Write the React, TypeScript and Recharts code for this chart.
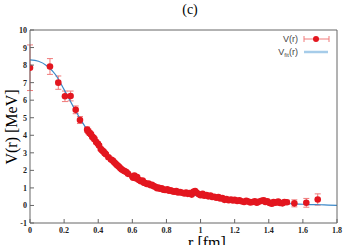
import {
  ComposedChart,
  Scatter,
  Line,
  XAxis,
  YAxis,
  ErrorBar,
} from "recharts";

// lattice points: r [fm], V [MeV], error
const rVals = [
  0.0, 0.117, 0.166, 0.205, 0.238, 0.268, 0.293, 0.335, 0.342, 0.35, 0.358, 0.365,
  0.372, 0.378, 0.388, 0.398, 0.405, 0.415, 0.422, 0.43, 0.438, 0.445, 0.46, 0.475,
  0.485, 0.492, 0.5, 0.508, 0.515, 0.522, 0.53, 0.538, 0.548, 0.556, 0.565, 0.575,
  0.6, 0.605, 0.612, 0.62, 0.628, 0.635, 0.642, 0.65, 0.66, 0.668, 0.675, 0.685,
  0.695, 0.705, 0.715, 0.725, 0.735, 0.745, 0.752, 0.762, 0.772, 0.782, 0.792,
  0.805, 0.815, 0.825, 0.838, 0.848, 0.858, 0.868, 0.88, 0.892, 0.905, 0.915,
  0.925, 0.935, 0.948, 0.958, 0.968, 0.978, 0.99, 1.0, 1.012, 1.022, 1.035, 1.045,
  1.058, 1.068, 1.08, 1.092, 1.105, 1.115, 1.128, 1.14, 1.152, 1.165, 1.178, 1.19,
  1.2, 1.215, 1.228, 1.24, 1.255, 1.268, 1.28, 1.292, 1.305, 1.318, 1.33, 1.345,
  1.358, 1.37, 1.38, 1.392, 1.405, 1.418, 1.428, 1.44, 1.455, 1.466, 1.48, 1.492,
  1.506, 1.55, 1.62, 1.687,
];
const vVals = [
  7.85, 7.92, 7.0, 6.22, 6.24, 5.45, 4.87, 4.32, 4.22, 4.12, 4.05, 3.92,
  3.86, 3.78, 3.62, 3.52, 3.42, 3.22, 3.15, 3.08, 2.98, 2.92, 2.75, 2.62,
  2.56, 2.48, 2.4, 2.32, 2.26, 2.2, 2.12, 2.05, 1.99, 1.95, 1.9, 1.8,
  1.65, 1.58, 1.7, 1.55, 1.62, 1.48, 1.44, 1.38, 1.42, 1.3, 1.28, 1.22,
  1.25, 1.16, 1.18, 1.1, 1.06, 0.98, 1.02, 0.95, 0.98, 0.9, 0.88,
  0.92, 0.84, 0.86, 0.8, 0.78, 0.82, 0.74, 0.76, 0.72, 0.68, 0.74,
  0.66, 0.7, 0.62, 0.78, 0.82, 0.72, 0.64, 0.58, 0.66, 0.55, 0.6, 0.52,
  0.56, 0.48, 0.5, 0.44, 0.48, 0.4, 0.42, 0.32, 0.36, 0.3, 0.34, 0.28,
  0.32, 0.26, 0.3, 0.24, 0.2, 0.26, 0.22, 0.17, 0.2, 0.24, 0.16, 0.22,
  0.27, 0.3, 0.2, 0.24, 0.14, 0.1, 0.2, 0.16, 0.22, 0.14, 0.12, 0.2,
  0.18, 0.12, 0.15, 0.34,
];
const errVals = [
  1.3, 0.45, 0.38, 0.3, 0.28, 0.22, 0.2, 0.15, 0.14, 0.13, 0.12, 0.12,
  0.12, 0.11, 0.11, 0.1, 0.1, 0.1, 0.1, 0.1, 0.09, 0.09, 0.09, 0.09,
  0.09, 0.08, 0.08, 0.08, 0.08, 0.08, 0.08, 0.08, 0.07, 0.07, 0.07, 0.07,
  0.07, 0.07, 0.08, 0.07, 0.07, 0.07, 0.07, 0.07, 0.08, 0.07, 0.07, 0.07,
  0.08, 0.07, 0.07, 0.07, 0.07, 0.07, 0.07, 0.07, 0.07, 0.07, 0.07,
  0.07, 0.07, 0.07, 0.07, 0.07, 0.07, 0.07, 0.07, 0.07, 0.07, 0.07,
  0.07, 0.07, 0.07, 0.08, 0.08, 0.08, 0.07, 0.07, 0.07, 0.07, 0.07, 0.07,
  0.07, 0.07, 0.07, 0.07, 0.07, 0.07, 0.07, 0.07, 0.07, 0.07, 0.07, 0.07,
  0.07, 0.07, 0.07, 0.07, 0.07, 0.07, 0.07, 0.08, 0.08, 0.08, 0.08, 0.08,
  0.08, 0.09, 0.09, 0.09, 0.09, 0.1, 0.1, 0.1, 0.1, 0.11, 0.11, 0.11,
  0.12, 0.2, 0.25, 0.32,
];

// fitted curve
const fitR = [
  0, 0.05, 0.1, 0.15, 0.2, 0.25, 0.3, 0.35, 0.4, 0.45, 0.5, 0.55, 0.6, 0.65, 0.7,
  0.75, 0.8, 0.85, 0.9, 0.95, 1.0, 1.05, 1.1, 1.15, 1.2, 1.25, 1.3, 1.35, 1.4,
  1.45, 1.5, 1.55, 1.6, 1.65, 1.7, 1.75, 1.8,
];
const fitV = [
  8.3, 8.22, 7.95, 7.45, 6.6, 5.7, 4.85, 4.1, 3.45, 2.9, 2.45, 2.05, 1.72, 1.45,
  1.22, 1.05, 0.9, 0.78, 0.68, 0.6, 0.52, 0.45, 0.39, 0.34, 0.3, 0.26, 0.22, 0.19,
  0.16, 0.13, 0.11, 0.09, 0.07, 0.05, 0.04, 0.02, 0.01,
];

const xTicks = [0, 0.2, 0.4, 0.6, 0.8, 1, 1.2, 1.4, 1.6, 1.8];
const yTicks = [-1, 0, 1, 2, 3, 4, 5, 6, 7, 8, 9, 10];

const points = rVals.map((r, i) => ({ r, v: vVals[i], err: errVals[i] }));
const fit = fitR.map((r, i) => ({ r, v: fitV[i] }));

const RED = "#e3161f";
const ERR = "#f07a7a";
const BLUE = "#3b88c8";
const AXIS = "#666";
const SERIF = "'Liberation Serif', 'Times New Roman', serif";
const SANS = "'Liberation Sans', Arial, sans-serif";

const BottomTick = ({ x, y, payload }: any) => (
  <g>
    <line x1={x} y1={y} x2={x} y2={y - 4} stroke={AXIS} />
    <text x={x} y={y + 10} textAnchor="middle" fontSize={8} fontWeight="bold" fontFamily={SERIF} fill="#222">
      {payload.value}
    </text>
  </g>
);
const TopTick = ({ x, y }: any) => <line x1={x} y1={y} x2={x} y2={y + 4} stroke={AXIS} />;
const LeftTick = ({ x, y, payload }: any) => (
  <g>
    <line x1={x} y1={y} x2={x + 4} y2={y} stroke={AXIS} />
    <text x={x - 3} y={y + 3} textAnchor="end" fontSize={8} fontWeight="bold" fontFamily={SERIF} fill="#222">
      {payload.value}
    </text>
  </g>
);
const RightTick = ({ x, y }: any) => <line x1={x} y1={y} x2={x - 4} y2={y} stroke={AXIS} />;

const LegendBox = () => (
  <svg width={90} height={30} style={{ display: "block" }}>
    <text x={48} y={12} textAnchor="end" fontSize={9} fontFamily={SANS} fill="#444">
      V(r)
    </text>
    <line x1={54} y1={9} x2={79} y2={9} stroke={ERR} strokeWidth={1} />
    <line x1={54} y1={6} x2={54} y2={12} stroke={ERR} />
    <line x1={79} y1={6} x2={79} y2={12} stroke={ERR} />
    <circle cx={66} cy={9} r={3} fill={RED} />
    <text x={48} y={25} textAnchor="end" fontSize={9} fontFamily={SANS} fill="#444">
      V<tspan fontSize={6} dy={2}>fit</tspan>
      <tspan dy={-2}>(r)</tspan>
    </text>
    <line x1={54} y1={22} x2={78} y2={22} stroke="#a6cce9" strokeWidth={2.5} />
  </svg>
);

export default function App() {
  return (
    <div style={{ position: "absolute", left: 0, top: 0, width: 350, height: 245, overflow: "hidden", background: "#fff" }}>
      <ComposedChart
        width={350}
        height={245}
        margin={{ top: 29, right: 12, bottom: 0, left: 0 }}
      >
        <XAxis
          xAxisId="b"
          dataKey="r"
          type="number"
          domain={[0, 1.8]}
          ticks={xTicks}
          interval={0}
          height={22}
          tickSize={0}
          tickMargin={0}
          tickLine={false}
          tick={BottomTick}
          stroke={AXIS}
          allowDataOverflow
        />
        <XAxis
          xAxisId="t"
          orientation="top"
          dataKey="r"
          type="number"
          domain={[0, 1.8]}
          ticks={xTicks}
          interval={0}
          height={1}
          tickSize={0}
          tickMargin={0}
          tickLine={false}
          tick={TopTick}
          stroke={AXIS}
        />
        <YAxis
          yAxisId="l"
          type="number"
          domain={[-1, 10]}
          ticks={yTicks}
          interval={0}
          width={30}
          tickSize={0}
          tickMargin={0}
          tickLine={false}
          tick={LeftTick}
          stroke={AXIS}
          allowDataOverflow
        />
        <YAxis
          yAxisId="r"
          orientation="right"
          type="number"
          domain={[-1, 10]}
          ticks={yTicks}
          interval={0}
          width={1}
          tickSize={0}
          tickMargin={0}
          tickLine={false}
          tick={RightTick}
          stroke={AXIS}
        />
        <Scatter
          xAxisId="b"
          yAxisId="l"
          data={points}
          dataKey="v"
          fill={RED}
          shape={(p: any) => <circle cx={p.cx} cy={p.cy} r={3.3} fill={RED} />}
          isAnimationActive={false}
        >
          <ErrorBar dataKey="err" direction="y" width={3} stroke={ERR} strokeWidth={1} />
        </Scatter>
        <Line
          xAxisId="b"
          yAxisId="l"
          data={fit}
          dataKey="v"
          type="monotone"
          stroke={BLUE}
          strokeWidth={1.2}
          dot={false}
          isAnimationActive={false}
        />
      </ComposedChart>
      <div style={{ position: "absolute", left: 250, top: 30 }}>
        <LegendBox />
      </div>
      <div style={{ position: "absolute", left: 175, top: 2, width: 30, textAlign: "center", fontFamily: SERIF, fontSize: 14 }}>
        (c)
      </div>
      <div style={{ position: "absolute", left: 157, top: 234, width: 100, textAlign: "center", fontFamily: SERIF, fontSize: 16 }}>
        r [fm]
      </div>
      <div
        style={{
          position: "absolute",
          left: 12 - 50,
          top: 127 - 10,
          width: 100,
          height: 20,
          lineHeight: "20px",
          textAlign: "center",
          fontFamily: SERIF,
          fontSize: 16,
          transform: "rotate(-90deg)",
        }}
      >
        V(r) [MeV]
      </div>
    </div>
  );
}
